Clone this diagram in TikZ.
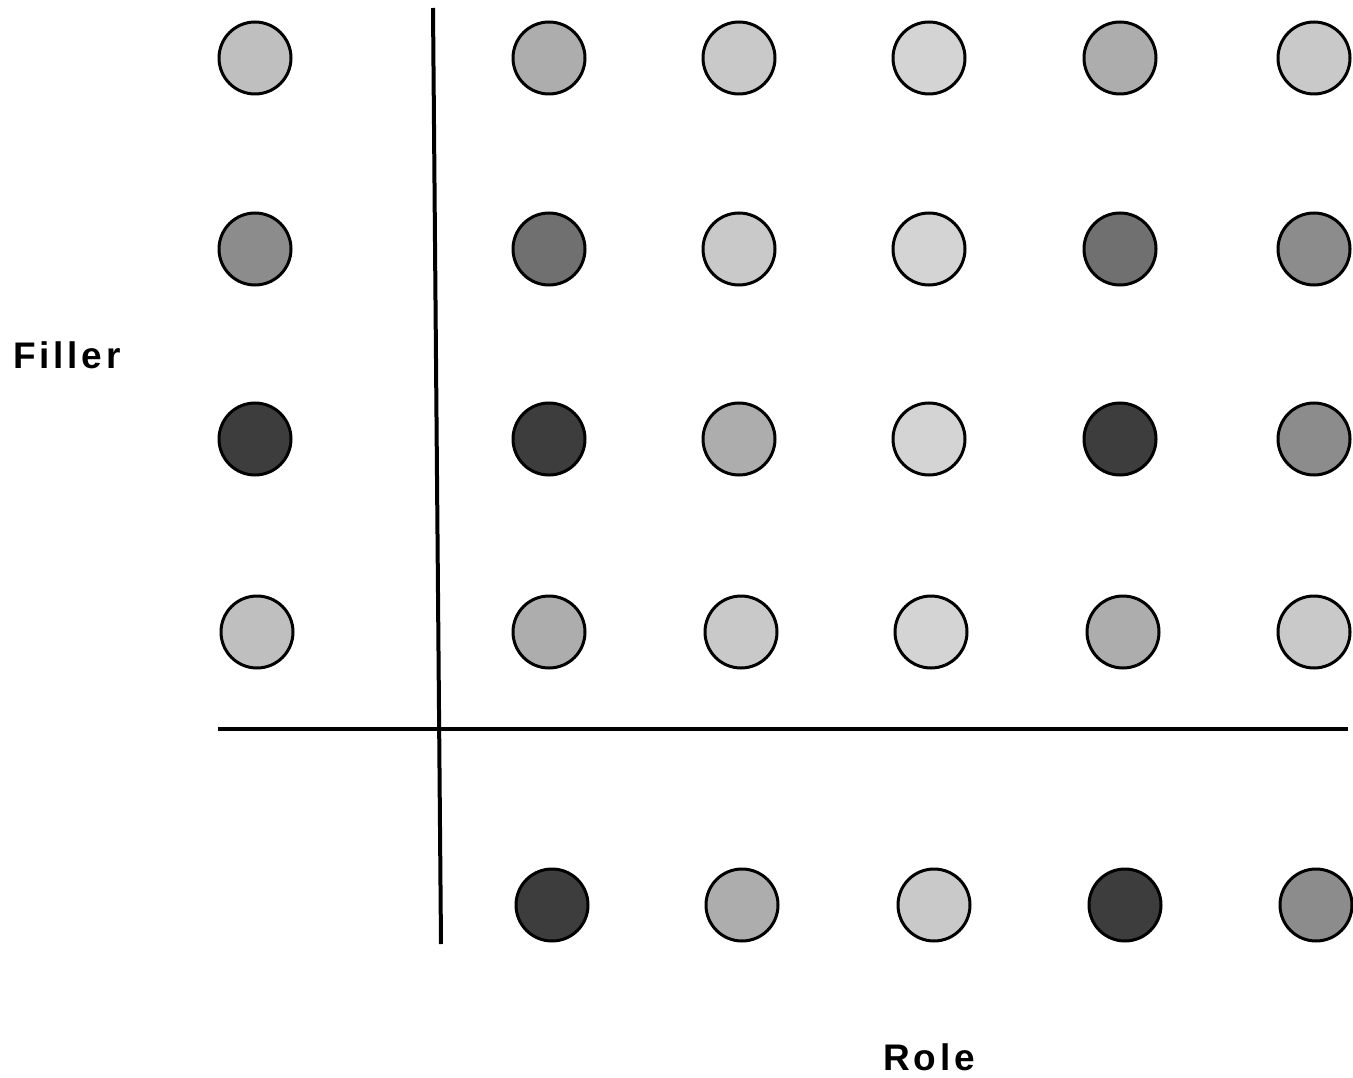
\documentclass[tikz,border=0pt]{standalone}
\usepackage{fontspec}
\newfontfamily\labfont[LetterSpace=10]{Liberation Sans}
\begin{document}
\begin{tikzpicture}[x=1pt,y=-1pt,
  unit/.style={circle,draw=black,line width=3pt,minimum size=72pt,inner sep=0pt},
  axis/.style={line width=4pt,draw=black},
  lab/.style={font=\labfont\bfseries\fontsize{37}{44}\selectfont,inner sep=0pt}]
\useasboundingbox (0,0) rectangle (1353,1078);
% shades (percent black)
\def\gA{25}\def\gB{32}\def\gC{21}\def\gD{17}\def\gE{45}\def\gG{56}\def\gF{76}
% left column (filler)
\node[unit,fill=black!\gA] (f1) at (255,58) {};
\node[unit,fill=black!\gE] (f2) at (255,249) {};
\node[unit,fill=black!\gF] (f3) at (255,439) {};
\node[unit,fill=black!\gA] (f4) at (257,632) {};
% row 1
\node[unit,fill=black!\gB] (a11) at (549,58) {};
\node[unit,fill=black!\gC] (a12) at (739,58) {};
\node[unit,fill=black!\gD] (a13) at (929,58) {};
\node[unit,fill=black!\gB] (a14) at (1120,58) {};
\node[unit,fill=black!\gC] (a15) at (1314,58) {};
% row 2
\node[unit,fill=black!\gG] (a21) at (549,249) {};
\node[unit,fill=black!\gC] (a22) at (739,249) {};
\node[unit,fill=black!\gD] (a23) at (929,249) {};
\node[unit,fill=black!\gG] (a24) at (1120,249) {};
\node[unit,fill=black!\gE] (a25) at (1314,249) {};
% row 3
\node[unit,fill=black!\gF] (a31) at (549,439) {};
\node[unit,fill=black!\gB] (a32) at (739,439) {};
\node[unit,fill=black!\gD] (a33) at (929,439) {};
\node[unit,fill=black!\gF] (a34) at (1120,439) {};
\node[unit,fill=black!\gE] (a35) at (1314,439) {};
% row 4
\node[unit,fill=black!\gB] (a41) at (549,632) {};
\node[unit,fill=black!\gC] (a42) at (741,632) {};
\node[unit,fill=black!\gD] (a43) at (931,632) {};
\node[unit,fill=black!\gB] (a44) at (1123,632) {};
\node[unit,fill=black!\gC] (a45) at (1314,632) {};
% bottom row (role)
\node[unit,fill=black!\gF] (r1) at (552,905) {};
\node[unit,fill=black!\gB] (r2) at (742,905) {};
\node[unit,fill=black!\gC] (r3) at (934,905) {};
\node[unit,fill=black!\gF] (r4) at (1125,905) {};
\node[unit,fill=black!\gE] (r5) at (1316,905) {};
% axes
\coordinate (vtop) at (433,8);
\coordinate (vbot) at (441,944);
\coordinate (hleft) at (218,729);
\coordinate (hright) at (1348,729);
\draw[axis] (vtop) -- (vbot);
\draw[axis,line width=4.8pt] (hleft) -- (hright);
% labels
\node[lab] (filler) at (67,355) {Filler};
\node[lab] (role) at (929,1057) {Role};
\end{tikzpicture}
\end{document}
